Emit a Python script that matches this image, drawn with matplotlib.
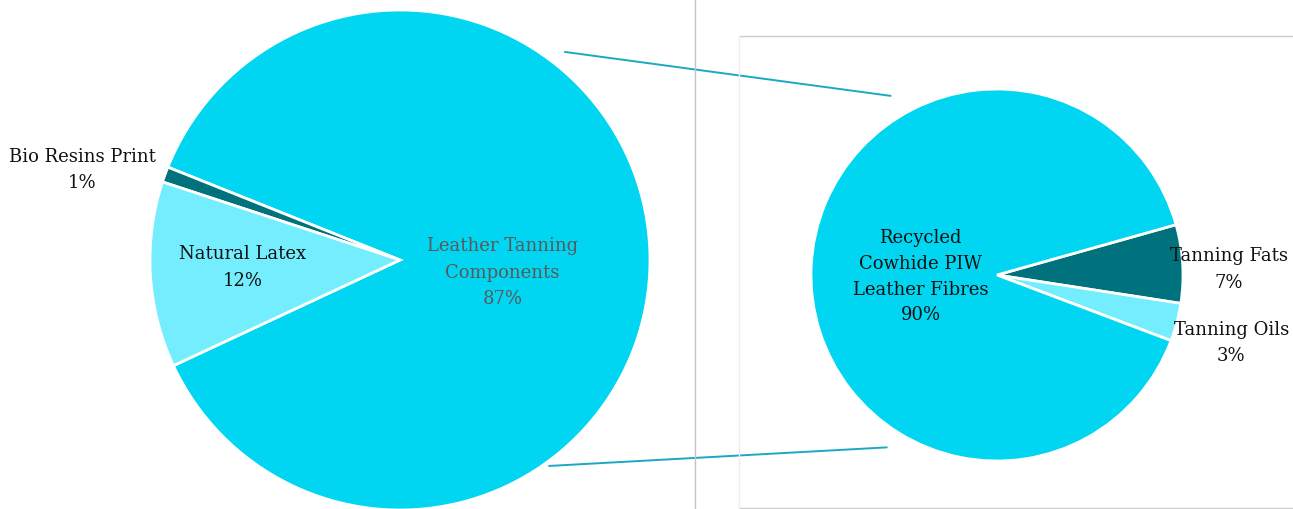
import numpy as np
import matplotlib
matplotlib.use("Agg")
import matplotlib.pyplot as plt
from matplotlib.patches import ConnectionPatch
from matplotlib.lines import Line2D

plt.rcParams['font.family'] = ['DejaVu Serif']

# left pie: order counter-clockwise from the start angle
left_labels = ["Leather Tanning\nComponents", "Bio Resins Print", "Natural Latex"]
left_values = [87, 1, 12]
left_pct = ["87%", "1%", "12%"]

# right pie: order clockwise from the start angle
right_labels = ["Tanning Fats", "Tanning Oils", "Recycled\nCowhide PIW\nLeather Fibres"]
right_values = [6.8, 3.3, 89.9]
right_pct = ["7%", "3%", "90%"]

BIG = "#00D6F2"
LIGHT = "#74EEFF"
DARK = "#00727E"
LINE = "#1BA9C2"

W, H = 1293, 509
fig = plt.figure(figsize=(W / 100, H / 100), dpi=100)


def box(x0, y0, size):
    # pixel box (from top-left) to figure fraction
    return [x0 / W, (H - y0 - size) / H, size / W, size / H]


axL = fig.add_axes(box(150, 10, 500))
axR = fig.add_axes(box(811, 89, 372))

wedgesL, _ = axL.pie(left_values, colors=[BIG, DARK, LIGHT], startangle=205,
                     counterclock=True,
                     wedgeprops=dict(edgecolor="white", linewidth=2))
wedgesR, _ = axR.pie(right_values, colors=[DARK, LIGHT, BIG], startangle=15.7,
                     counterclock=False,
                     wedgeprops=dict(edgecolor="white", linewidth=2))
for ax in (axL, axR):
    ax.set_xlim(-1, 1)
    ax.set_ylim(-1, 1)
    ax.set_aspect("equal")
    ax.axis("off")

fs = 13
ls = 1.6
# left labels
axL.text(0.41, -0.05, left_labels[0] + "\n" + left_pct[0], ha="center", va="center",
         fontsize=fs, color="#595959", linespacing=ls)
axL.text(-0.63, -0.03, left_labels[2] + "\n" + left_pct[2], ha="center", va="center",
         fontsize=fs, color="#111111", linespacing=ls)
axL.text(-1.27, 0.36, left_labels[1] + "\n" + left_pct[1], ha="center", va="center",
         fontsize=fs, color="#111111", linespacing=ls)

# right labels
axR.text(-0.41, -0.01, right_labels[2] + "\n" + right_pct[2], ha="center", va="center",
         fontsize=fs, color="#111111", linespacing=1.55)
axR.text(1.245, 0.03, right_labels[0] + "\n" + right_pct[0], ha="center", va="center",
         fontsize=fs, color="#111111", linespacing=ls)
axR.text(1.26, -0.365, right_labels[1] + "\n" + right_pct[1], ha="center", va="center",
         fontsize=fs, color="#111111", linespacing=ls)


def polar(r, deg):
    a = np.radians(deg)
    return (r * np.cos(a), r * np.sin(a))


con1 = ConnectionPatch(xyA=polar(1.062, 51.6), coordsA=axL.transData,
                       xyB=polar(1.12, 120.7), coordsB=axR.transData,
                       color=LINE, linewidth=1.4)
con2 = ConnectionPatch(xyA=polar(1.017, -54.1), coordsA=axL.transData,
                       xyB=polar(1.10, -122.6), coordsB=axR.transData,
                       color=LINE, linewidth=1.4)
fig.add_artist(con1)
fig.add_artist(con2)

# panel separators
fig.add_artist(Line2D([695.5 / W, 695.5 / W], [0, 1], color="#c4c4c4", linewidth=1))
fig.add_artist(Line2D([738.5 / W, 1], [1 - 35.5 / H, 1 - 35.5 / H], color="#cccccc", linewidth=1))
fig.add_artist(Line2D([738.5 / W, 1], [1 - 508 / H, 1 - 508 / H], color="#cccccc", linewidth=1))
fig.add_artist(Line2D([739 / W, 739 / W], [0, 1 - 35.5 / H], color="#eeeeee", linewidth=1))

fig.savefig("out.png", dpi=100, facecolor="white")
